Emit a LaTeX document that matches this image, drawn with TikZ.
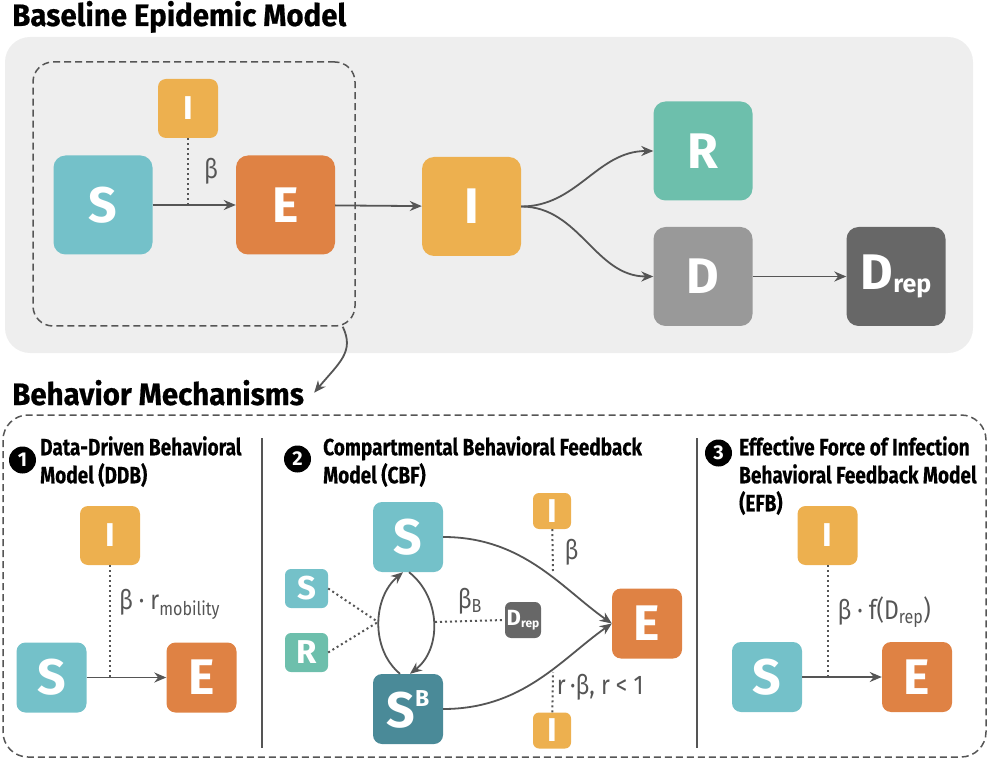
\documentclass[tikz,border=0pt]{standalone}
\usepackage{fontspec}
\setmainfont{Fira Sans}
\newfontfamily\titlefont[FakeStretch=0.95, FakeBold=0.6]{Fira Sans}
\newfontfamily\headfont[FakeStretch=0.81, FakeBold=0.4]{Fira Sans}
\newfontfamily\ratefont[FakeStretch=0.85]{Fira Sans}
\usetikzlibrary{arrows.meta, positioning, calc}

\definecolor{suscol}{HTML}{74C1C9}
\definecolor{suscbcol}{HTML}{4A8A98}
\definecolor{expcol}{HTML}{DF8244}
\definecolor{infcol}{HTML}{EDB04F}
\definecolor{reccol}{HTML}{6DBFAC}
\definecolor{deadcol}{HTML}{999999}
\definecolor{repcol}{HTML}{676767}
\definecolor{panelgray}{HTML}{EEEEEE}
\definecolor{linegray}{HTML}{555555}

\newcommand{\repsub}[2]{\raisebox{-#2}{\fontsize{#1}{#1}\selectfont rep}}

\tikzset{
    comp/.style={rounded corners=12pt, inner sep=0pt, text=white,
        minimum width=99pt, minimum height=99pt,
        font=\bfseries\fontsize{50}{50}\selectfont},
    midcomp/.style={comp, rounded corners=9pt, minimum width=70pt, minimum height=70pt},
    smallcomp/.style={comp, rounded corners=8pt, minimum width=60pt, minimum height=59pt,
        font=\bfseries\fontsize{33}{33}\selectfont},
    tinycomp/.style={comp, rounded corners=6pt, minimum width=43pt, minimum height=39pt,
        font=\bfseries\fontsize{33}{33}\selectfont},
    flow/.style={draw=linegray, line width=1.8pt, -{Stealth[length=12pt, width=10pt]}},
    contact/.style={draw=linegray, line width=2pt, dash pattern=on 2pt off 3pt},
    rate/.style={text=linegray, inner sep=0pt, font=\ratefont\fontsize{27}{27}\selectfont},
    heading/.style={anchor=north west, inner sep=0pt, align=left,
        font=\headfont\bfseries\fontsize{23.5}{28}\selectfont},
    bigtitle/.style={anchor=base west, inner sep=0pt,
        font=\titlefont\bfseries\fontsize{31}{31}\selectfont},
    bullet/.style={circle, fill=black, text=white, inner sep=0pt, minimum size=27pt,
        font=\bfseries\fontsize{20}{20}\selectfont},
    dashframe/.style={draw=linegray, line width=1.5pt, dash pattern=on 7pt off 4pt}
}

\begin{document}
\begin{tikzpicture}[x=1pt, y=-1pt]
\useasboundingbox (0,0) rectangle (988,759);

% baseline epidemic model
\node[bigtitle] (basetitle) at (12,26) {Baseline Epidemic Model};
\fill[panelgray, rounded corners=25pt] (5,37) rectangle (973,353);
\node[dashframe, rounded corners=20pt, minimum width=322pt, minimum height=264pt] (focus) at (194,194) {};

\node[comp, fill=suscol] (S) at (103,205) {S};
\node[comp, fill=expcol] (E) at (285.5,205) {E};
\node[smallcomp, fill=infcol] (I0) at (188,108.5) {I};
\node[comp, fill=infcol] (I) at (471.5,206.5) {I};
\node[comp, fill=reccol] (R) at (703,151) {R};
\node[comp, fill=deadcol] (D) at (703,276.5) {D};
\node[comp, fill=repcol] (Drep) at (896,276.5) {D\repsub{25}{3pt}};

\draw[flow] (S) -- (E);
\draw[contact] (I0) -- (I0 |- S.east) node[rate, midway, right=15pt] {β};
\draw[flow] (E) -- (I);
\draw[flow] (I.east) to[out=0, in=180] (R.west);
\draw[flow] (I.east) to[out=0, in=180] (D.west);
\draw[flow] (D) -- (Drep);

% behavior mechanisms
\node[bigtitle] (mechtitle) at (12,405) {Behavior Mechanisms};
\draw[flow] ([xshift=-13pt]focus.south east) .. controls +(12,25) and +(25,-30) .. ([xshift=10pt]mechtitle.east);
\draw[dashframe, rounded corners=25pt] (3,415) rectangle (986,757);
\draw[linegray, line width=1.8pt] (262,438) -- (262,748);
\draw[linegray, line width=1.8pt] (697,438) -- (697,748);

% 1: data-driven
\node[bullet] (num1) at (22.5,460) {1};
\node[heading] (head1) at (40,436) {Data-Driven Behavioral\\Model (DDB)};
\node[smallcomp, fill=infcol] (I1) at (110,535.5) {I};
\node[midcomp, fill=suscol] (S1) at (51.5,677.5) {S};
\node[midcomp, fill=expcol] (E1) at (201.5,677.5) {E};
\draw[flow] (S1) -- (E1);
\draw[contact] (I1) -- (I1 |- S1.east) node[rate, pos=0.35, right=8pt] {β · r\textsubscript{mobility}};

% 2: compartmental feedback
\node[bullet] (num2) at (297.5,459) {2};
\node[heading] (head2) at (323,436) {Compartmental Behavioral Feedback\\Model (CBF)};
\node[midcomp, fill=suscol] (S2) at (408,537) {S};
\node[midcomp, fill=suscbcol] (SB) at (408,709) {S\raisebox{21pt}{\fontsize{23}{23}\selectfont B}};
\node[tinycomp, fill=suscol] (Sx) at (306.5,588.5) {S};
\node[tinycomp, fill=reccol] (Rx) at (306.5,652.5) {R};
\node[tinycomp, fill=repcol, minimum width=36pt, minimum height=36pt,
    font=\bfseries\fontsize{22}{22}\selectfont] (Dx) at (523,620) {D\repsub{12}{2pt}};
\node[tinycomp, fill=infcol, minimum width=38pt, minimum height=36pt] (Itop) at (552,511) {I};
\node[tinycomp, fill=infcol, minimum width=38pt, minimum height=36pt] (Ibot) at (552,730.5) {I};
\node[midcomp, fill=expcol] (E2) at (647,623.5) {E};
\coordinate (loopL) at (378,622);
\coordinate (loopR) at (435,622);
\coordinate (meetT) at (553,571);
\coordinate (meetB) at (553,672);

\draw[contact] (Sx.east) -- (loopL);
\draw[contact] (Rx.east) -- (loopL);
\draw[flow] ([xshift=-8pt]SB.north) .. controls +(-30,-25) and +(-30,25) .. ([xshift=-5pt]S2.south);
\draw[flow] ([xshift=1pt]S2.south) .. controls +(32,25) and +(32,-25) .. ([xshift=2pt]SB.north);
\draw[contact] (loopR) -- (Dx.west) node[rate, midway, above=6pt] {β\textsubscript{B}};
\draw[flow] (S2.east) .. controls +(80,0) and +(-50,-35) .. (E2.west);
\draw[flow] (SB.east) .. controls +(80,0) and +(-50,35) .. (E2.west);
\draw[contact] (Itop) -- (meetT) node[rate, pos=0.55, right=11pt] {β};
\draw[contact] (Ibot) -- (meetB) node[rate, pos=0.63, right=3pt] {r\,·β, r < 1};

% 3: effective force of infection
\node[bullet] (num3) at (718.5,453) {3};
\node[heading] (head3) at (739,436) {Effective Force of Infection\\Behavioral Feedback Model\\(EFB)};
\node[smallcomp, fill=infcol] (I3) at (827.5,535.5) {I};
\node[midcomp, fill=suscol] (S3) at (767,677) {S};
\node[midcomp, fill=expcol] (E3) at (917,677) {E};
\draw[flow] (S3) -- (E3);
\draw[contact] (I3) -- (I3 |- S3.east) node[rate, pos=0.42, right=9pt] {β · f(D\textsubscript{rep})};

\end{tikzpicture}
\end{document}
